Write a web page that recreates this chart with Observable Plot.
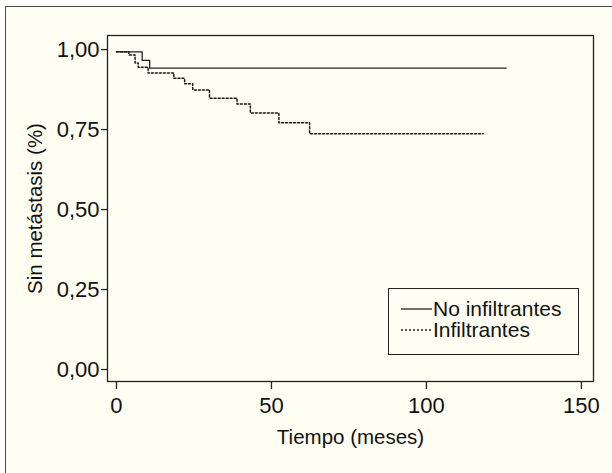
<!DOCTYPE html>
<html>
<head>
<meta charset="utf-8">
<script src="https://cdn.jsdelivr.net/npm/d3@7"></script>
<script src="https://cdn.jsdelivr.net/npm/@observablehq/plot@0.6"></script>
<style>
  html, body { margin: 0; padding: 0; background: #ffffff; }
  #wrap { position: relative; width: 612px; height: 473px; overflow: hidden; font-family: "Liberation Sans", Arial, Helvetica, sans-serif; }
  #panel { position: absolute; left: 5px; top: 6px; right: 0; bottom: 0; background: #fefef3; border-top: 1.5px solid #4a4a4a; border-left: 1.5px solid #4a4a4a; }
  #chart { position: absolute; left: 0; top: 0; }
  #legend { position: absolute; left: 388px; top: 288px; width: 189px; height: 65px; border: 1.3px solid #222; background: #fefef3; }
  .row { position: absolute; left: 0; height: 19px; line-height: 19px; display: flex; align-items: center; font-size: 21px; color: #111; white-space: nowrap; }
  .row svg { margin-left: 12px; margin-right: 1px; }
</style>
</head>
<body>
<div id="wrap">
  <div id="panel"></div>
  <div id="chart"></div>
  <div id="legend"></div>
</div>
<script>
// Data
const seriesNames = ["No infiltrantes", "Infiltrantes"];
const monthsNo = [0, 8.3, 10.7, 125.7];
const survNo = [0.993, 0.966, 0.942, 0.942];
const monthsInf = [0, 4, 6, 7, 10.2, 18.5, 22, 24.6, 30, 38.9, 43.2, 52.4, 62.3, 118.3];
const survInf = [0.993, 0.983, 0.958, 0.945, 0.927, 0.91, 0.893, 0.874, 0.848, 0.83, 0.802, 0.771, 0.737, 0.737];
const xTicks = [0, 50, 100, 150];
const yTicks = [0, 0.25, 0.5, 0.75, 1];
const xTitle = "Tiempo (meses)";
const yTitle = "Sin metástasis (%)";

const noData = monthsNo.map((t, i) => ({t, s: survNo[i]}));
const infData = monthsInf.map((t, i) => ({t, s: survInf[i]}));

const dash = "2,2";
const font = "'Liberation Sans', Arial, Helvetica, sans-serif";

const chart = Plot.plot({
  width: 612,
  height: 473,
  marginLeft: 107,
  marginRight: 19,
  marginTop: 35,
  marginBottom: 92,
  style: {background: "transparent", fontFamily: font, fontSize: "22px", color: "#111"},
  x: {domain: [-2.9, 153.9]},
  y: {domain: [-0.0375, 1.044]},
  marks: [
    Plot.frame({stroke: "#222", strokeWidth: 1.3}),
    Plot.axisX({ticks: xTicks, tickSize: 8, tickPadding: 8, stroke: "#222", strokeWidth: 1.3,
      fontSize: 22, label: null}),
    Plot.axisY({ticks: yTicks, tickSize: 6, tickPadding: 2, stroke: "#222", strokeWidth: 1.3,
      fontSize: 22, tickFormat: d => d.toFixed(2).replace(".", ","), label: null}),
    Plot.text([xTitle], {text: d => d, frameAnchor: "bottom", dy: 56, lineAnchor: "middle", fontSize: 20.5, fill: "#111"}),
    Plot.text([yTitle], {text: d => d, frameAnchor: "left", dx: -72, rotate: -90, lineAnchor: "middle", textAnchor: "middle", fontSize: 20.5, fill: "#111"}),
    Plot.line(noData, {x: "t", y: "s", curve: "step-after", stroke: "#222", strokeWidth: 1.3}),
    Plot.line(infData, {x: "t", y: "s", curve: "step-after", stroke: "#1a1a1a", strokeWidth: 1.5, strokeDasharray: dash})
  ]
});
document.getElementById("chart").appendChild(chart);

// Legend
const legend = document.getElementById("legend");
seriesNames.forEach((name, i) => {
  const row = document.createElement("div");
  row.className = "row";
  row.style.top = (i === 0 ? 10 : 31) + "px";
  row.innerHTML = `<svg width="31" height="4"><line x1="0" x2="31" y1="2" y2="2" stroke="#222" stroke-width="1.3" ${i === 1 ? `stroke-dasharray="${dash}"` : ""}/></svg><span>${name}</span>`;
  legend.appendChild(row);
});
</script>
</body>
</html>
